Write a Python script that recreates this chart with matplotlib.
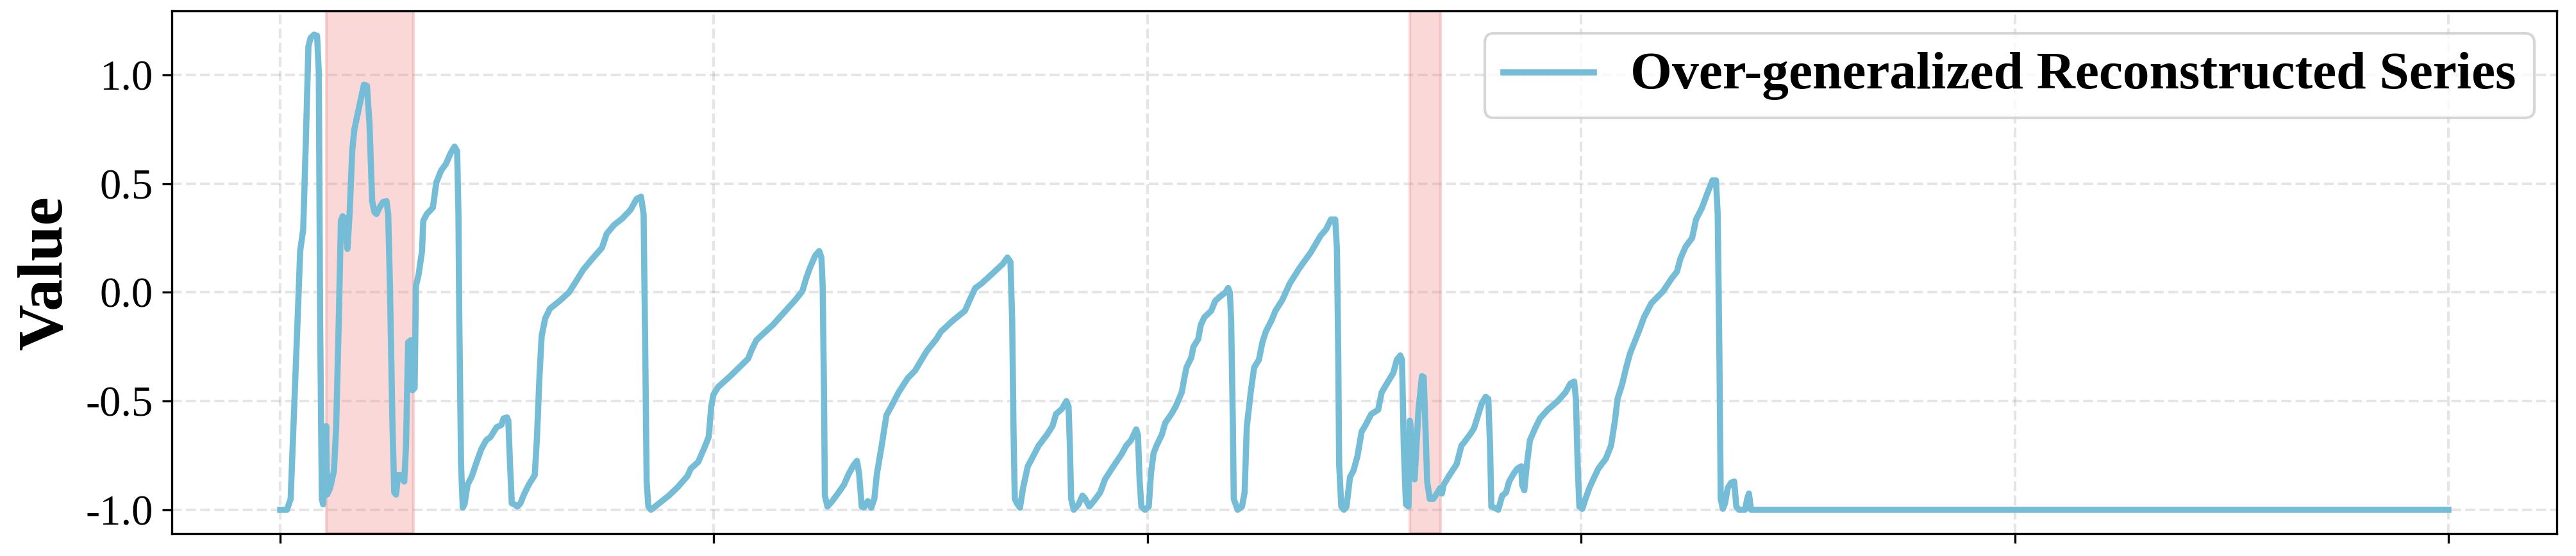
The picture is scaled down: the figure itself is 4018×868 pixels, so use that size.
import matplotlib
matplotlib.use("Agg")
import matplotlib.pyplot as plt

plt.rcParams['font.family'] = ['Liberation Serif', 'DejaVu Serif']
plt.rcParams['axes.unicode_minus'] = False

# time index of the traced reconstruction (0..500)
time_idx = [
    0, 1.55, 2.4, 3.2, 4.0, 4.6, 5.3, 5.9, 6.5, 7.0, 7.8, 8.5, 8.9, 9.2, 9.6, 9.9,
    10.3, 10.6, 10.8, 11.5, 12.4, 12.9, 13.5, 14.0, 14.4, 14.9, 15.5, 16.0, 16.6, 17.1,
    18.5, 19.3, 20.0, 20.6, 21.2, 21.7, 22.2, 22.9, 23.7, 24.5, 24.9, 25.3, 25.9, 26.3,
    26.7, 27.2, 27.8, 28.6, 29.0, 29.5, 30.1, 30.5, 31.0, 31.3, 31.9, 32.7, 33.0, 33.8,
    35.2, 36.0, 37.1, 38.2, 39.3, 40.2, 40.8, 41.1, 41.3, 41.7, 42.1, 42.5, 43.2, 44.2,
    45.3, 46.4, 47.5, 48.5, 49.9, 51.0, 51.5, 52.3, 52.6, 53.0, 53.4, 54.0, 54.7, 55.4,
    56.2, 57.3, 58.7, 59.2, 59.8, 60.3, 61.1, 62.2, 64.4, 66.6, 68.2, 69.9, 72.0, 74.2,
    75.3, 77.0, 78.9, 80.8, 82.2, 83.2, 83.8, 84.2, 84.5, 84.9, 85.5, 87.4, 89.6, 91.7,
    93.9, 94.7, 96.4, 97.8, 98.8, 99.4, 99.9, 101.0, 103.8, 107.9, 108.7, 109.8, 111.4,
    113.6, 116.3, 118.8, 120.4, 121.3, 122.1, 123.4, 124.3, 124.8, 125.1, 125.4, 125.6,
    126.2, 127.3, 128.6, 130.0, 131.1, 132.2, 133.0, 133.5, 134.1, 134.6, 135.5, 136.3,
    137.0, 137.6, 138.7, 139.8, 140.9, 142.6, 144.7, 146.4, 149.1, 151.3, 152.4, 155.1,
    157.9, 159.0, 160.3, 161.7, 163.9, 166.6, 167.7, 168.4, 168.8, 169.1, 169.4, 169.9,
    170.6, 171.3, 172.4, 173.2, 174.9, 176.8, 178.1, 178.9, 180.3, 181.3, 181.8, 182.1,
    182.4, 183.0, 184.1, 185.0, 185.5, 186.6, 188.0, 189.1, 190.2, 191.8, 194.0, 195.1,
    196.2, 197.4, 197.8, 198.2, 198.6, 199.4, 200.3, 200.8, 201.4, 202.2, 203.3, 204.1,
    205.5, 206.5, 207.9, 208.5, 209.0, 210.1, 210.6, 211.7, 212.3, 213.1, 214.7, 215.6,
    216.7, 218.0, 218.6, 219.0, 219.3, 219.7, 219.9, 220.8, 221.8, 222.4, 222.9, 223.8,
    224.6, 225.7, 226.5, 227.3, 228.7, 229.5, 231.1, 232.8, 235.0, 237.7, 239.9, 241.2,
    242.3, 243.3, 243.7, 244.0, 244.2, 244.7, 245.3, 245.9, 246.7, 247.5, 248.4, 249.4,
    250.3, 251.6, 253.2, 254.0, 254.9, 256.7, 257.5, 258.3, 258.7, 259.1, 259.6, 260.2,
    260.5, 260.7, 261.2, 261.6, 262.5, 263.3, 263.7, 264.1, 264.5, 265.1, 265.9, 266.9,
    267.5, 267.9, 268.3, 269.5, 271.3, 272.4, 273.0, 274.5, 275.3, 277.1, 278.0, 278.6,
    279.0, 279.3, 280.0, 280.9, 281.8, 282.7, 283.4, 284.4, 285.3, 286.2, 286.4, 286.9,
    287.5, 288.2, 289.4, 290.5, 292.3, 294.6, 296.4, 297.5, 298.4, 298.8, 299.2, 299.6,
    300.3, 301.0, 301.9, 302.8, 304.0, 305.7, 306.9, 307.8, 308.4, 309.5, 310.4, 311.3,
    312.1, 313.3, 314.5, 316.2, 318.9, 320.9, 322.1, 322.9, 324.1, 325.6, 326.5, 327.9,
    329.1, 330.3, 331.1, 331.5, 331.9, 332.2, 332.7, 333.2, 333.8, 334.6, 335.3, 335.8,
    336.4, 337.8, 338.3, 338.7, 339.2, 500,
]

# reconstructed values
recon_values = [
    -1.0, -1.0, -0.95, -0.54, -0.13, 0.19, 0.29, 0.69, 1.13, 1.17, 1.185, 1.18, 1.01, -0.13, -0.95, -0.975,
    -0.78, -0.615, -0.93, -0.90, -0.82, -0.62, -0.13, 0.33, 0.35, 0.34, 0.20, 0.36, 0.65, 0.75,
    0.88, 0.955, 0.95, 0.77, 0.42, 0.37, 0.36, 0.39, 0.415, 0.42, 0.36, 0.03, -0.62, -0.92,
    -0.93, -0.84, -0.84, -0.87, -0.71, -0.23, -0.22, -0.45, -0.44, 0.03, 0.08, 0.19, 0.33, 0.36,
    0.39, 0.505, 0.56, 0.59, 0.64, 0.67, 0.65, 0.36, -0.13, -0.79, -0.99, -0.975, -0.885, -0.845,
    -0.78, -0.72, -0.68, -0.665, -0.62, -0.61, -0.58, -0.575, -0.59, -0.79, -0.97, -0.975, -0.985, -0.97,
    -0.93, -0.885, -0.84, -0.67, -0.38, -0.20, -0.12, -0.075, -0.04, 0.0, 0.05, 0.105, 0.155, 0.205,
    0.27, 0.31, 0.34, 0.38, 0.43, 0.44, 0.36, -0.30, -0.87, -0.985, -1.0, -0.97, -0.935, -0.895,
    -0.845, -0.81, -0.78, -0.715, -0.665, -0.525, -0.47, -0.435, -0.385, -0.305, -0.265, -0.22, -0.19,
    -0.15, -0.09, -0.035, 0.005, 0.065, 0.11, 0.17, 0.19, 0.16, 0.03, -0.46, -0.935,
    -0.985, -0.96, -0.925, -0.885, -0.835, -0.795, -0.775, -0.835, -0.985, -0.99, -0.96, -0.99,
    -0.95, -0.835, -0.705, -0.565, -0.525, -0.46, -0.395, -0.36, -0.27, -0.215, -0.18, -0.13,
    -0.085, -0.035, 0.02, 0.04, 0.08, 0.13, 0.16, 0.14, -0.13, -0.62, -0.95, -0.97,
    -0.99, -0.90, -0.80, -0.77, -0.705, -0.655, -0.615, -0.56, -0.535, -0.50, -0.525, -0.705,
    -0.95, -1.0, -0.975, -0.935, -0.945, -0.985, -0.95, -0.92, -0.86, -0.81, -0.745, -0.705,
    -0.68, -0.63, -0.655, -0.87, -0.985, -1.0, -0.985, -0.835, -0.74, -0.70, -0.655, -0.60,
    -0.56, -0.525, -0.46, -0.395, -0.345, -0.30, -0.25, -0.215, -0.15, -0.115, -0.085, -0.04,
    -0.02, 0.0, 0.02, 0.0, -0.13, -0.62, -0.95, -1.0, -0.985, -0.92, -0.62, -0.46,
    -0.345, -0.31, -0.23, -0.18, -0.125, -0.085, -0.035, 0.04, 0.11, 0.185, 0.26, 0.29,
    0.335, 0.335, 0.195, -0.30, -0.79, -0.985, -1.0, -0.985, -0.85, -0.82, -0.755, -0.64,
    -0.61, -0.56, -0.54, -0.46, -0.43, -0.37, -0.31, -0.29, -0.31, -0.705, -0.975, -0.985,
    -0.59, -0.62, -0.85, -0.86, -0.54, -0.385, -0.39, -0.62, -0.87, -0.95, -0.95, -0.92,
    -0.90, -0.925, -0.885, -0.845, -0.79, -0.705, -0.69, -0.65, -0.625, -0.51, -0.48, -0.49,
    -0.705, -0.985, -0.99, -1.0, -0.935, -0.92, -0.87, -0.835, -0.81, -0.80, -0.885, -0.91,
    -0.79, -0.68, -0.625, -0.58, -0.54, -0.50, -0.46, -0.42, -0.41, -0.49, -0.79, -0.985,
    -0.995, -0.95, -0.90, -0.86, -0.81, -0.765, -0.705, -0.59, -0.49, -0.42, -0.345, -0.28,
    -0.24, -0.18, -0.115, -0.05, 0.005, 0.065, 0.095, 0.155, 0.21, 0.25, 0.335, 0.39,
    0.455, 0.515, 0.515, 0.36, -0.30, -0.95, -0.995, -0.97, -0.90, -0.875, -0.87, -0.985,
    -1.0, -1.0, -0.95, -0.925, -1.0, -1.0,
]

# highlighted (anomalous) windows
span_starts = [10.6, 260.5]
span_ends = [30.7, 267.6]

line_color = '#75BCD6'

fig = plt.figure(figsize=(4018 / 300, 868 / 300), dpi=300)
ax = fig.add_subplot(111)
fig.subplots_adjust(left=268 / 4018, right=3988 / 4018, top=1 - 17 / 868, bottom=1 - 833 / 868)

for s, e in zip(span_starts, span_ends):
    ax.axvspan(s, e, color='lightcoral', alpha=0.3, zorder=1)

ax.plot(time_idx, recon_values, color=line_color, linewidth=2.3,
        label='Over-generalized Reconstructed Series', zorder=3)

ax.grid(True, linestyle='--', linewidth=1.0, color='gray', alpha=0.2)
ax.set_axisbelow(True)

ax.set_ylabel('Value', fontsize=24, fontweight='bold')
ax.tick_params(axis='y', labelsize=16)
ax.tick_params(axis='x', labelbottom=False)
ax.set_yticks([-1.0, -0.5, 0.0, 0.5, 1.0])

leg = ax.legend(loc='upper right', fontsize=17)
for txt in leg.get_texts():
    txt.set_fontsize(20)
    txt.set_fontweight('bold')

fig.savefig('out.png', dpi=300)
